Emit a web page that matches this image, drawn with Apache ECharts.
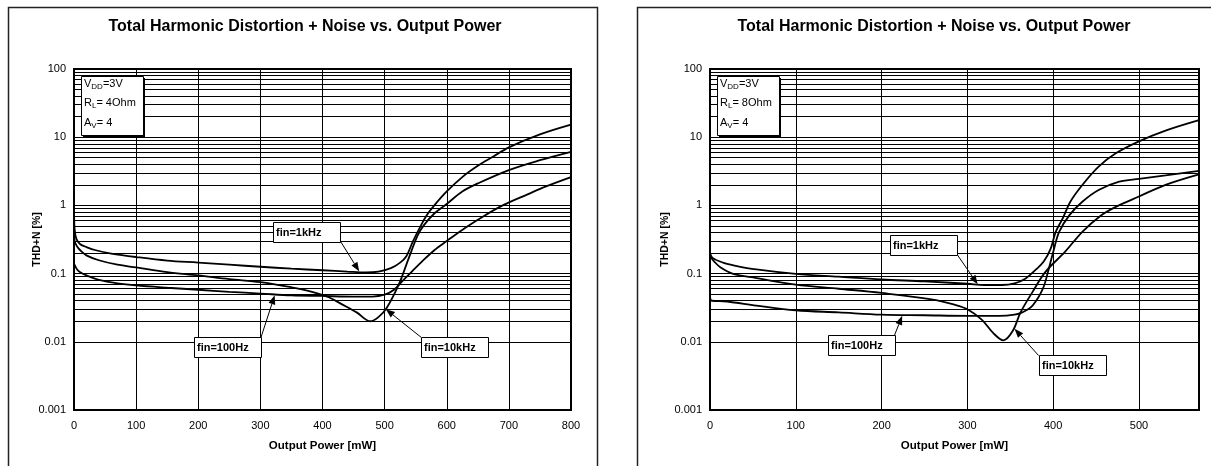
<!DOCTYPE html>
<html><head><meta charset="utf-8">
<script src="https://cdn.jsdelivr.net/npm/echarts@6/dist/echarts.min.js"></script>
<style>html,body{margin:0;padding:0;background:#fff}#c{width:1211px;height:466px}</style>
</head><body><div id="c"></div>
<script>
const titleText = 'Total Harmonic Distortion + Noise vs. Output Power';
const xName = 'Output Power [mW]';
const yName = 'THD+N [%]';
const yTickLabels = ['0.001', '0.01', '0.1', '1', '10', '100'];
const decades = [0.001, 0.01, 0.1, 1, 10, 100];
const minorMultipliers = [2, 3, 4, 5, 6, 7, 8, 9];
const seriesNames = ['fin=1kHz', 'fin=10kHz', 'fin=100Hz'];

// Left panel: VDD=3V, RL=4 Ohm, Av=4  ([Output Power mW, THD+N %])
const left1k = [[0,1.0],[1,0.45],[4,0.32],[10,0.27],[20,0.245],[35,0.22],[60,0.197],[100,0.175],[150,0.155],[200,0.145],[250,0.135],[300,0.126],[350,0.118],[400,0.112],[440,0.107],[470,0.104],[490,0.107],[510,0.12],[525,0.145],[535,0.18],[545,0.29],[556,0.46],[567,0.7],[580,1.0],[600,1.6],[625,2.6],[650,3.8],[675,5.2],[700,7.1],[750,11],[800,15.3]];
const left10k = [[0,0.5],[1,0.3],[5,0.25],[10,0.22],[20,0.185],[40,0.157],[70,0.135],[100,0.123],[150,0.105],[200,0.094],[250,0.083],[300,0.075],[350,0.063],[380,0.055],[410,0.045],[430,0.036],[455,0.027],[477,0.02],[490,0.023],[503,0.031],[523,0.07],[539,0.17],[553,0.36],[563,0.51],[580,0.76],[600,1.05],[625,1.6],[650,2.1],[700,3.3],[750,4.6],[800,6.1]];
const left100 = [[0,0.14],[5,0.115],[10,0.105],[20,0.094],[40,0.081],[70,0.072],[100,0.067],[150,0.062],[200,0.058],[250,0.054],[300,0.051],[350,0.048],[400,0.047],[450,0.046],[480,0.046],[500,0.049],[515,0.058],[530,0.08],[545,0.11],[560,0.15],[580,0.22],[600,0.3],[630,0.47],[660,0.7],[690,1.0],[730,1.45],[760,1.9],[800,2.6]];

// Right panel: VDD=3V, RL=8 Ohm, Av=4
const right1k = [[0,0.2],[3,0.17],[15,0.145],[30,0.13],[54,0.115],[100,0.099],[150,0.09],[200,0.082],[250,0.077],[300,0.071],[320,0.068],[340,0.068],[355,0.072],[368,0.085],[380,0.115],[389,0.15],[397,0.23],[403,0.41],[411,0.64],[420,1.13],[434,1.99],[453,3.7],[473,5.8],[500,8.7],[531,12.5],[570,17.8]];
const right10k = [[0,0.18],[5,0.15],[12,0.124],[27,0.099],[54,0.086],[100,0.069],[150,0.06],[200,0.052],[258,0.042],[285,0.035],[300,0.03],[317,0.021],[330,0.0135],[342,0.0105],[353,0.0145],[362,0.027],[376,0.054],[391,0.106],[414,0.21],[434,0.41],[455,0.7],[473,0.95],[500,1.35],[531,2.0],[570,2.85]];
const right100 = [[0,0.045],[2,0.04],[20,0.039],[54,0.034],[100,0.029],[150,0.027],[200,0.025],[250,0.0245],[300,0.024],[337,0.024],[355,0.025],[364,0.027],[376,0.034],[388,0.06],[395,0.119],[401,0.23],[407,0.41],[419,0.72],[434,1.13],[453,1.68],[477,2.23],[500,2.45],[531,2.75],[570,3.2]];

const paramTextLeft = ['V|DD|=3V', 'R|L|= 4Ohm', 'A|V|= 4'];
const paramTextRight = ['V|DD|=3V', 'R|L|= 8Ohm', 'A|V|= 4'];

const xMaxLeft = 800, xMaxRight = 570;

// annotation anchors in data coordinates: box top-left, arrow start, arrow tip
const notesLeft = [
  {text: 'fin=1kHz', box: [320, 0.58], from: [428, 0.307], to: [459, 0.108]},
  {text: 'fin=100Hz', box: [193, 0.0116], from: [301, 0.0116], to: [323, 0.048]},
  {text: 'fin=10kHz', box: [559, 0.0116], from: [559, 0.0116], to: [502, 0.030]}
];
const notesRight = [
  {text: 'fin=1kHz', box: [210, 0.363], from: [288, 0.191], to: [312, 0.07]},
  {text: 'fin=100Hz', box: [138, 0.0124], from: [215, 0.0124], to: [224, 0.024]},
  {text: 'fin=10kHz', box: [383, 0.0063], from: [383, 0.0063], to: [355, 0.0155]}
];

const FONT = 'Liberation Sans, Arial, sans-serif';
const gridLines = [];
decades.forEach(d => gridLines.push({yAxis: d}));
decades.slice(0, 5).forEach(d => minorMultipliers.forEach(m => gridLines.push({yAxis: +(d * m).toPrecision(3)})));

function labelFor(v) {
  const e = Math.round(Math.log10(v));
  return yTickLabels[e + 3] || '';
}

function xAxisCfg(idx, max) {
  return {
    gridIndex: idx, type: 'value', min: 0, max: max, interval: 100,
    name: xName, nameLocation: 'middle', nameGap: 30, nameMoveOverlap: false,
    nameTextStyle: {fontFamily: FONT, fontWeight: 'bold', fontSize: 11.5, color: '#000'},
    axisLine: {show: false}, axisTick: {show: false},
    axisLabel: {fontFamily: FONT, fontSize: 11, color: '#000', margin: 10,
      formatter: v => (v % 100 === 0 ? String(v) : '')},
    splitLine: {show: true, lineStyle: {color: '#000', width: 1}}
  };
}
function yAxisCfg(idx, gap) {
  return {
    gridIndex: idx, type: 'log', logBase: 10, min: 0.001, max: 100,
    name: yName, nameLocation: 'middle', nameGap: gap, nameRotate: 90, nameMoveOverlap: false,
    nameTextStyle: {fontFamily: FONT, fontWeight: 'bold', fontSize: 10.5, color: '#000'},
    axisLine: {show: false}, axisTick: {show: false},
    axisLabel: {fontFamily: FONT, fontSize: 11, color: '#000', margin: 8, formatter: labelFor},
    splitLine: {show: false}
  };
}
function lineSeries(name, data, idx, withGrid) {
  const s = {
    name: name, type: 'line', xAxisIndex: idx, yAxisIndex: idx, data: data,
    showSymbol: false, smooth: 0.35, silent: true, z: 5,
    lineStyle: {color: '#000', width: 1.8}
  };
  if (withGrid) {
    s.markLine = {silent: true, symbol: ['none', 'none'], animation: false, z: 1,
      label: {show: false}, lineStyle: {color: '#000', width: 1, type: 'solid'},
      emphasis: {disabled: true}, data: gridLines};
  }
  return s;
}

const chart = echarts.init(document.getElementById('c'), null, {renderer: 'canvas'});
const gridL = {left: 74, right: 640, top: 69, bottom: 56};
const gridR = {left: 710, right: 12, top: 69, bottom: 56};
chart.setOption({
  animation: false,
  backgroundColor: '#fff',
  title: [
    {text: titleText, left: 300, top: 14, textAlign: 'center',
      textStyle: {fontFamily: FONT, fontWeight: 'bold', fontSize: 16, color: '#000'}},
    {text: titleText, left: 929, top: 14, textAlign: 'center',
      textStyle: {fontFamily: FONT, fontWeight: 'bold', fontSize: 16, color: '#000'}}
  ],
  grid: [
    Object.assign({show: true, borderColor: '#000', borderWidth: 2, backgroundColor: 'transparent', z: 10}, gridL),
    Object.assign({show: true, borderColor: '#000', borderWidth: 2, backgroundColor: 'transparent', z: 10}, gridR)
  ],
  xAxis: [xAxisCfg(0, xMaxLeft), xAxisCfg(1, xMaxRight)],
  yAxis: [yAxisCfg(0, 31), yAxisCfg(1, 39)],
  series: [
    lineSeries(seriesNames[0], left1k, 0, true),
    lineSeries(seriesNames[1], left10k, 0, false),
    lineSeries(seriesNames[2], left100, 0, false),
    lineSeries(seriesNames[0], right1k, 1, true),
    lineSeries(seriesNames[1], right10k, 1, false),
    lineSeries(seriesNames[2], right100, 1, false)
  ]
});

function arrow(p1, p2) {
  const dx = p2[0] - p1[0], dy = p2[1] - p1[1];
  const L = Math.hypot(dx, dy), ux = dx / L, uy = dy / L;
  const hl = 9, hw = 3.5;
  const bx = p2[0] - ux * hl, by = p2[1] - uy * hl;
  return [
    {type: 'line', z: 100, silent: true, shape: {x1: p1[0], y1: p1[1], x2: bx, y2: by}, style: {stroke: '#000', lineWidth: 1}},
    {type: 'polygon', z: 100, silent: true, shape: {points: [[p2[0], p2[1]], [bx - uy * hw, by + ux * hw], [bx + uy * hw, by - ux * hw]]}, style: {fill: '#000'}}
  ];
}

function noteGraphics(notes, gi) {
  const out = [];
  notes.forEach(n => {
    const b = chart.convertToPixel({gridIndex: gi}, n.box);
    const f = chart.convertToPixel({gridIndex: gi}, n.from);
    const t = chart.convertToPixel({gridIndex: gi}, n.to);
    out.push(...arrow(f, t));
    out.push({type: 'rect', z: 101, silent: true, shape: {x: Math.round(b[0]) + 0.5, y: Math.round(b[1]) + 0.5, width: 67, height: 20},
      style: {fill: '#fff', stroke: '#000', lineWidth: 1}});
    out.push({type: 'text', z: 102, silent: true, x: Math.round(b[0]) + 3, y: Math.round(b[1]) + 10.5,
      style: {text: n.text, fontFamily: FONT, fontWeight: 'bold', fontSize: 11, fill: '#000', verticalAlign: 'middle'}});
  });
  return out;
}

function paramBox(lines, x, y) {
  const txt = lines.map(l => { const p = l.split('|'); return '{n|' + p[0] + '}{s|' + p[1] + '}{n|' + p[2] + '}'; }).join('\n');
  return [
    {type: 'rect', z: 100, silent: true, shape: {x: x + 2, y: y + 2, width: 62, height: 59}, style: {fill: '#000'}},
    {type: 'rect', z: 101, silent: true, shape: {x: x + 0.5, y: y + 0.5, width: 62, height: 59}, style: {fill: '#fff', stroke: '#000', lineWidth: 1}},
    {type: 'text', z: 102, silent: true, x: x + 3, y: y - 2,
      style: {text: txt, fontFamily: FONT, fill: '#000',
        rich: {n: {fontFamily: FONT, fontSize: 11, lineHeight: 19.5, fill: '#000'},
               s: {fontFamily: FONT, fontSize: 8, lineHeight: 13.5, padding: [6, 0, 0, 0], fill: '#000'}}}}
  ];
}

const g = [];
g.push({type: 'rect', z: 0, silent: true, shape: {x: 8.5, y: 7.5, width: 589, height: 520}, style: {fill: 'none', stroke: '#222', lineWidth: 1.5}});
g.push({type: 'rect', z: 0, silent: true, shape: {x: 637.5, y: 7.5, width: 620, height: 520}, style: {fill: 'none', stroke: '#222', lineWidth: 1.5}});
g.push(...paramBox(paramTextLeft, gridL.left + 7, gridL.top + 7));
g.push(...paramBox(paramTextRight, gridR.left + 7, gridR.top + 7));
g.push(...noteGraphics(notesLeft, 0));
g.push(...noteGraphics(notesRight, 1));
chart.setOption({graphic: g});
</script></body></html>
